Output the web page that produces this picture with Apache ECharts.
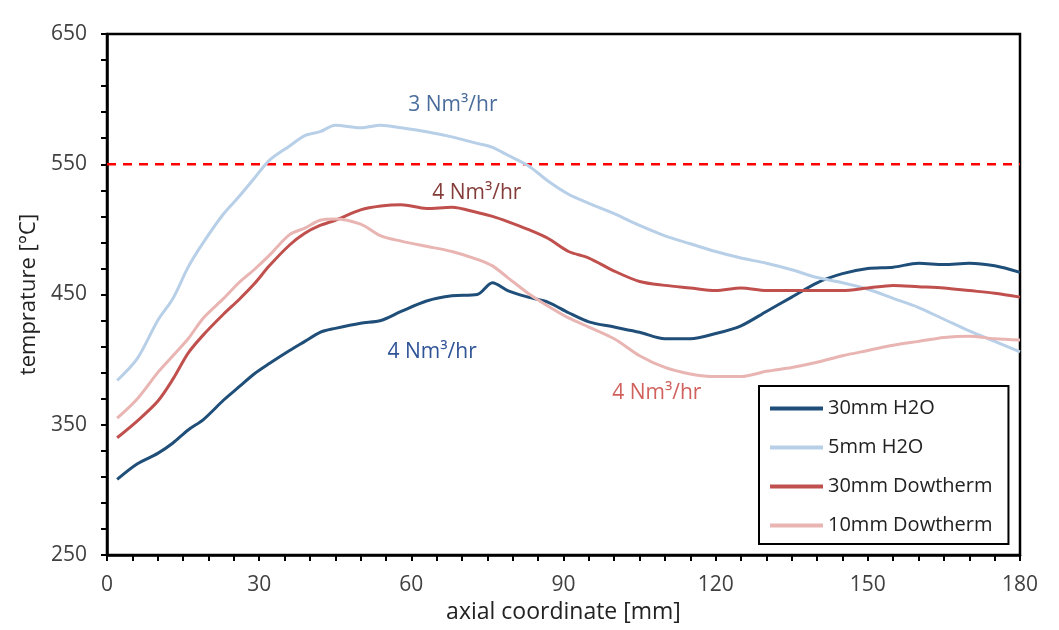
<!DOCTYPE html>
<html>
<head>
<meta charset="utf-8">
<script src="https://cdn.jsdelivr.net/npm/echarts@6/dist/echarts.min.js"></script>
<style>
	html, body { margin: 0; padding: 0; background: #fff; }
	#chart { width: 1059px; height: 630px; }
</style>
</head>
<body>
<div id="chart"></div>
<script>
// axial position [mm]
var xs = [2, 6, 10, 13, 16, 19, 23, 26, 29, 32, 36, 39, 42, 45, 50, 54, 58, 63, 68, 73, 76, 79, 83, 87, 91,
	95, 100, 105, 110, 115, 120, 125, 130, 135, 140, 145, 150, 155, 160, 165, 170, 175, 180];

var h2o30 = [308, 320, 328, 336, 346, 354, 369, 379, 389, 397, 407, 414, 421, 424, 428, 430, 437, 445, 449, 450, 459, 453, 448, 444, 436,
	429, 425, 421, 416, 416, 420, 426, 437, 448, 459, 466, 470, 471, 474, 473, 474, 472, 467];
var h2o5 = [384, 401, 430, 447, 471, 490, 512, 525, 539, 553, 564, 572, 575, 580, 578, 580, 578, 575, 571, 566, 563, 557, 549, 537, 527,
	520, 512, 503, 495, 489, 483, 478, 474, 469, 463, 459, 454, 447, 440, 431, 422, 414, 406];
var dow30 = [340, 353, 368, 385, 405, 419, 435, 446, 458, 472, 488, 497, 503, 507, 515, 518, 519, 516, 517, 513, 510, 506, 500, 493, 483,
	478, 468, 460, 457, 455, 453, 455, 453, 453, 453, 453, 455, 457, 456, 455, 453, 451, 448];
var dow10 = [355, 370, 390, 403, 416, 432, 447, 459, 469, 480, 496, 501, 507, 508, 504, 495, 491, 487, 483, 477, 472, 463, 451, 441, 432,
	425, 416, 403, 394, 389, 387, 387, 391, 394, 398, 403, 407, 411, 414, 417, 418, 416, 415];

var seriesNames = ['30mm H2O', '5mm H2O', '30mm Dowtherm', '10mm Dowtherm'];
var seriesColors = ['#1f4e79', '#b8cfe8', '#c0504d', '#e9b5b3'];

// tick labels
var yLabels = [250, 350, 450, 550, 650];
var yTicks = [];
for (var v = 250; v <= 650; v += 20) yTicks.push(v);
var xLabels = [0, 30, 60, 90, 120, 150, 180];
var xTicks = [];
for (var t = 0; t <= 180; t += 5) xTicks.push(t);

var limit = 550;

// flow rate notes: [x, y, text, color, series index]
var notes = [
	[68.2, 595.5, '3 Nm³/hr', '#4a6d9c', 1],
	[72.9, 527.9, '4 Nm³/hr', '#843c39', 2],
	[64.1, 405.9, '4 Nm³/hr', '#2f5496', 0],
	[108.4, 374.4, '4 Nm³/hr', '#d0615d', 3]
];

var chart = echarts.init(document.getElementById('chart'));
var font = 'Open Sans';

function pairs(ys) {
	var out = [];
	for (var i = 0; i < xs.length; i++) out.push([xs[i], ys[i]]);
	return out;
}

var allData = [h2o30, h2o5, dow30, dow10];
var series = [];
for (var i = 0; i < allData.length; i++) {
	var s = {
		name: seriesNames[i],
		type: 'line',
		data: pairs(allData[i]),
		symbol: 'none',
		smooth: 0.3,
		z: 3,
		lineStyle: { color: seriesColors[i], width: 3 },
		itemStyle: { color: seriesColors[i] },
		markPoint: { data: [] }
	};
	for (var k = 0; k < notes.length; k++) {
		if (notes[k][4] != i) continue;
		s.markPoint.data.push({
			coord: [notes[k][0], notes[k][1]],
			symbol: 'circle',
			symbolSize: 0,
			label: {
				show: true,
				position: 'inside',
				formatter: notes[k][2],
				color: notes[k][3],
				fontFamily: font,
				fontSize: 21
			}
		});
	}
	series.push(s);
}

// dashed limit line
series.push({
	type: 'line',
	data: [[0, limit], [180, limit]],
	symbol: 'none',
	silent: true,
	z: 2,
	lineStyle: { color: '#ff0000', width: 2.5, type: [9, 7] }
});

var option = {
	animation: false,
	grid: {
		left: 107, right: 39, top: 34, bottom: 75,
		show: true, borderColor: '#000', borderWidth: 2.5
	},
	legend: {
		data: seriesNames,
		orient: 'vertical',
		left: 759,
		top: 386,
		padding: [12, 16, 8, 11],
		icon: 'rect',
		itemWidth: 53,
		itemHeight: 4,
		itemGap: 18,
		borderColor: '#000',
		borderWidth: 2,
		backgroundColor: '#fff',
		textStyle: { fontFamily: font, fontSize: 20, color: '#222', lineHeight: 21 }
	},
	xAxis: {
		type: 'value',
		min: 0, max: 180,
		name: 'axial coordinate [mm]',
		nameLocation: 'middle',
		nameGap: 45,
		nameTextStyle: { fontFamily: font, fontSize: 23, color: '#222' },
		axisLine: { lineStyle: { color: '#000', width: 2.5 } },
		axisTick: { show: true, customValues: xTicks, length: 6, lineStyle: { color: '#000', width: 2 } },
		axisLabel: { customValues: xLabels, fontFamily: font, fontSize: 21, color: '#404040', margin: 20 },
		splitLine: { show: false }
	},
	yAxis: {
		type: 'value',
		min: 250, max: 650,
		name: 'temprature [°C]',
		nameLocation: 'middle',
		nameGap: 58,
		nameTextStyle: { fontFamily: font, fontSize: 22, color: '#222' },
		axisLine: { show: true, lineStyle: { color: '#000', width: 2.5 } },
		axisTick: { show: true, customValues: yTicks, length: 6, lineStyle: { color: '#000', width: 2 } },
		axisLabel: { customValues: yLabels, fontFamily: font, fontSize: 21, color: '#404040', margin: 20 },
		splitLine: { show: false }
	},
	series: series
};

chart.setOption(option);
</script>
</body>
</html>
